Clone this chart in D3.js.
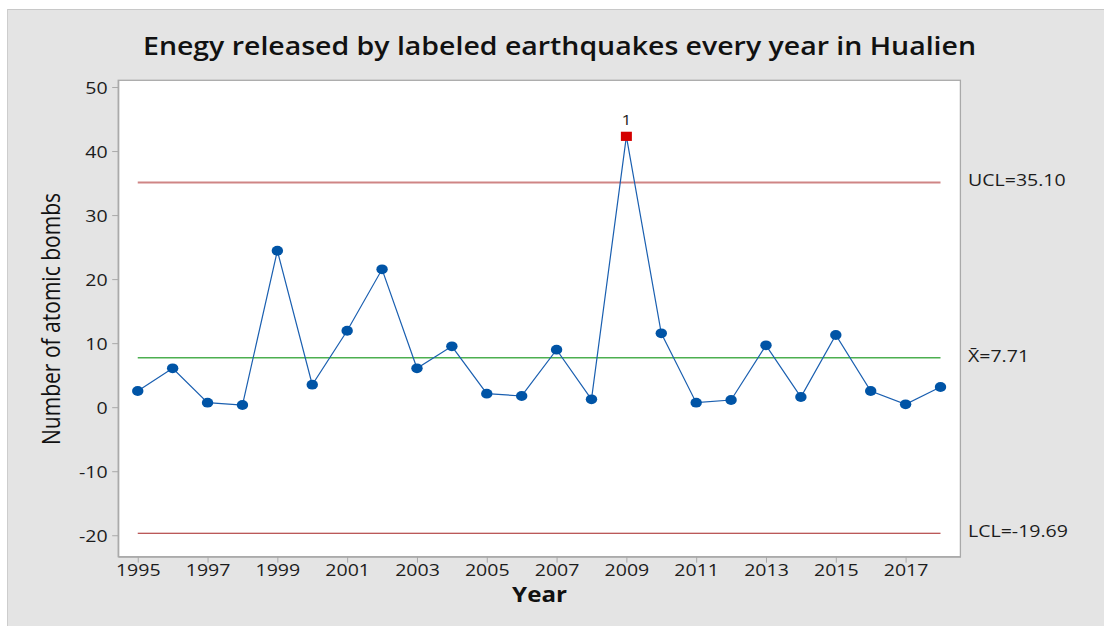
<!DOCTYPE html>
<html>
<head>
<meta charset="utf-8">
<script src="https://cdn.jsdelivr.net/npm/d3@7"></script>
<style>
  html, body { margin: 0; padding: 0; background: #ffffff; }
  svg { display: block; font-family: "Open Sans", "Noto Sans", sans-serif; }
</style>
</head>
<body>
<svg id="chart" width="1104" height="627"></svg>
<script>
// Yearly energy released by labeled earthquakes in Hualien (I chart)
const years = [1995, 1996, 1997, 1998, 1999, 2000, 2001, 2002, 2003, 2004, 2005, 2006,
               2007, 2008, 2009, 2010, 2011, 2012, 2013, 2014, 2015, 2016, 2017, 2018];
const bombs = [2.53, 6.07, 0.70, 0.34, 24.43, 3.51, 11.94, 21.53, 6.07, 9.51, 2.11, 1.75,
               8.98, 1.23, 42.30, 11.54, 0.70, 1.12, 9.66, 1.59, 11.27, 2.53, 0.45, 3.15];
// Points flagged by test 1 (beyond control limits), with their test label
const flagged = [2009];
const flagLabels = ["1"];

// Control limits
const limitNames = ["UCL", "X\u0304", "LCL"];
const limitValues = [35.10, 7.71, -19.69];
const limitColors = ["#cf8585", "#4caf50", "#a52222"];
const limitWidths = [2, 1.5, 1.2];

const xTicks = [1995, 1997, 1999, 2001, 2003, 2005, 2007, 2009, 2011, 2013, 2015, 2017];
const yTicks = [-20, -10, 0, 10, 20, 30, 40, 50];

const title = "Enegy released by labeled earthquakes every year in Hualien";
const xTitle = "Year";
const yTitle = "Number of atomic bombs";

const SX = 1.15;          // horizontal widening of the text glyphs
const plot = { left: 118.2, right: 960.4, top: 80.3, bottom: 556.7 };

const svg = d3.select("#chart");

// Outer panel
svg.append("rect").attr("x", 7).attr("y", 9).attr("width", 1104 - 7).attr("height", 617)
  .attr("fill", "#e4e4e4");
svg.append("line").attr("x1", 7).attr("x2", 1104).attr("y1", 9.5).attr("y2", 9.5)
  .attr("stroke", "#c8c8c8").attr("stroke-width", 1);
svg.append("line").attr("x1", 7.5).attr("x2", 7.5).attr("y1", 9).attr("y2", 626)
  .attr("stroke", "#cdcdcd").attr("stroke-width", 1);

// Data region
svg.append("rect")
  .attr("x", plot.left).attr("y", plot.top)
  .attr("width", plot.right - plot.left).attr("height", plot.bottom - plot.top)
  .attr("fill", "#ffffff").attr("stroke", "#a9a9a9").attr("stroke-width", 1.3);

const x = d3.scaleLinear().domain([1994.44, 2018.57]).range([plot.left, plot.right]);
const y = d3.scaleLinear().domain([-23.35, 51.05]).range([plot.bottom, plot.top]);

// Axes
const xAxis = svg.append("g").attr("transform", `translate(0,${plot.bottom})`)
  .call(d3.axisBottom(x).tickValues(xTicks).tickFormat(d3.format("d")).tickSize(6).tickSizeOuter(0));
const yAxis = svg.append("g").attr("transform", `translate(${plot.left},0)`)
  .call(d3.axisLeft(y).tickValues(yTicks).tickFormat(d3.format("d")).tickSize(6).tickSizeOuter(0));

[xAxis, yAxis].forEach(g => {
  g.select(".domain").attr("stroke", "#a9a9a9").attr("stroke-width", 1.3);
  g.selectAll(".tick line").attr("stroke", "#a9a9a9").attr("stroke-width", 1);
  g.selectAll(".tick text").attr("fill", "#1c1c1c").attr("font-size", 17)
    .attr("font-family", "'Open Sans', sans-serif");
});
xAxis.selectAll(".tick text").attr("y", 0).attr("dy", 0)
  .attr("transform", `translate(0,19.3) scale(${SX},1)`);
yAxis.selectAll(".tick text").attr("x", 0).attr("dy", 0)
  .attr("transform", `translate(-10.6,6) scale(${SX},1)`)
  .text(d => d < 0 ? "-" + Math.abs(d) : d);

// Control limit lines and their labels
limitValues.forEach((v, i) => {
  svg.append("line")
    .attr("x1", x(years[0])).attr("x2", x(years[years.length - 1]))
    .attr("y1", y(v)).attr("y2", y(v))
    .attr("stroke", limitColors[i]).attr("stroke-width", limitWidths[i]);
  svg.append("text")
    .attr("transform", `translate(968,${y(v) + 3.8}) scale(${SX},1)`)
    .attr("font-size", 17).attr("fill", "#1c1c1c")
    .text(`${limitNames[i]}=${v.toFixed(2)}`);
});

// Series line
const pts = years.map((yr, i) => ({ yr, v: bombs[i] }));
svg.append("path").datum(pts)
  .attr("fill", "none").attr("stroke", "#1a5fb0").attr("stroke-width", 1.2)
  .attr("d", d3.line().x(d => x(d.yr)).y(d => y(d.v)));

// Regular points
svg.selectAll("ellipse.pt").data(pts.filter(d => !flagged.includes(d.yr)))
  .join("ellipse").attr("class", "pt")
  .attr("cx", d => x(d.yr)).attr("cy", d => y(d.v))
  .attr("rx", 5.7).attr("ry", 4.9).attr("fill", "#0054a6");

// Out-of-control points
const bad = pts.filter(d => flagged.includes(d.yr));
svg.selectAll("rect.bad").data(bad).join("rect").attr("class", "bad")
  .attr("x", d => x(d.yr) - 5.5).attr("y", d => y(d.v) - 4.6)
  .attr("width", 11).attr("height", 9.2).attr("fill", "#d40000");
svg.selectAll("text.flag").data(bad).join("text").attr("class", "flag")
  .attr("transform", d => `translate(${x(d.yr)},${y(d.v) - 11}) scale(${SX},1)`)
  .attr("text-anchor", "middle").attr("font-size", 15).attr("fill", "#1c1c1c")
  .text((d, i) => flagLabels[i]);

// Titles
svg.append("text").attr("x", 559.5).attr("y", 55)
  .attr("text-anchor", "middle").attr("font-size", 25.5).attr("font-weight", 600)
  .attr("fill", "#111111")
  .attr("textLength", 833).attr("lengthAdjust", "spacingAndGlyphs")
  .text(title);

svg.append("text")
  .attr("transform", `translate(539.5,601.7) scale(${SX},1)`)
  .attr("text-anchor", "middle").attr("font-size", 21).attr("font-weight", 700)
  .attr("fill", "#111111").text(xTitle);

svg.append("text")
  .attr("transform", `translate(60,319) scale(${SX},1) rotate(-90)`)
  .attr("text-anchor", "middle").attr("font-size", 22)
  .attr("fill", "#111111")
  .attr("textLength", 252).attr("lengthAdjust", "spacingAndGlyphs")
  .text(yTitle);
</script>
</body>
</html>
